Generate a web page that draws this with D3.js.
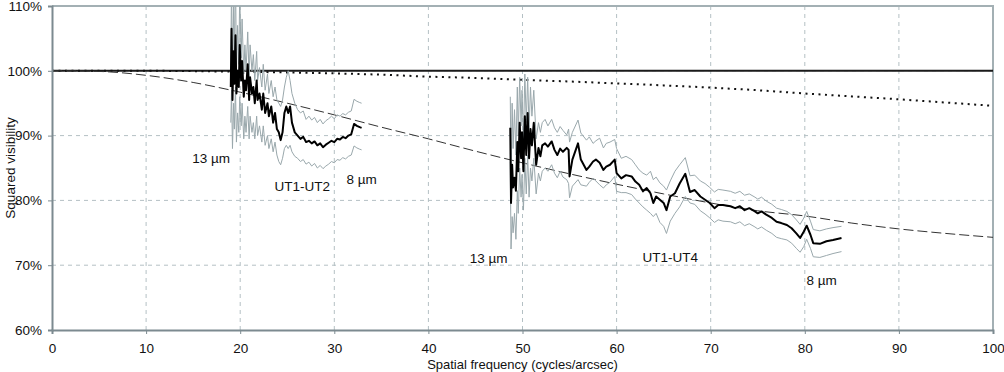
<!DOCTYPE html>
<html>
<head>
<meta charset="utf-8">
<script src="https://cdn.jsdelivr.net/npm/d3@7"></script>
<style>
  body { margin: 0; background: #fff; }
  text { font-family: 'Liberation Sans', Arial, sans-serif; fill: #111; }
</style>
</head>
<body>
<div id="chart"></div>
<script>
// model curves
let modelFreq = [0, 5, 10, 15, 20, 25, 30, 35, 40, 45, 50, 55, 60, 65, 70, 75, 80, 85, 90, 95, 100]
let dashedModel = [100, 99.9, 99.3, 98.2, 96.7, 95.0, 93.2, 91.3, 89.5, 87.6, 85.8, 84.1, 82.5, 81.0, 79.6, 78.4, 77.6, 76.5, 75.6, 74.9, 74.3]
let dottedModel = [100, 100, 100, 99.95, 99.85, 99.75, 99.6, 99.4, 99.1, 98.9, 98.6, 98.35, 98.05, 97.75, 97.4, 97.0, 96.5, 96.05, 95.6, 95.1, 94.6]

// UT1-UT2 baseline
let ut12Freq = [19.0, 19.08, 19.18, 19.3, 19.38, 19.5, 19.6, 19.72, 19.85, 19.95, 20.1, 20.2, 20.38, 20.5, 20.62, 20.8, 20.95, 21.05, 21.25, 21.4, 21.55, 21.75, 21.85, 22.05, 22.3, 22.45, 22.65, 22.9, 23.05, 23.3, 23.5, 23.7, 23.9, 24.1, 24.3, 24.5, 24.7, 24.9, 25.1, 25.3, 25.5, 25.8, 26.1, 26.4, 26.7, 27.0, 27.3, 27.6, 27.9, 28.2, 28.5, 28.8, 29.1, 29.4, 29.7, 30.0, 30.3, 30.6, 30.9, 31.2, 31.5, 31.8, 32.1, 32.4, 32.7, 32.9]
let ut12Mean = [97.5, 106.5, 95.5, 103, 98, 105.5, 96.5, 100, 97.5, 104, 98.5, 101.5, 96, 98.5, 97, 101, 95.5, 99, 96.5, 97.5, 95, 98.5, 95.5, 96.5, 94, 96.5, 93.5, 95, 93, 94.5, 92, 93.5, 91, 90.5, 89.3, 90.5, 93.5, 94.5, 93.5, 94.5, 92, 90.5, 90, 89.5, 89.8, 89, 89.2, 88.8, 89.1, 88.5, 88.8, 88.2, 88.6, 88.9, 89.2, 89, 89.5, 89.4, 89.8, 89.6, 90, 90.2, 91.8, 91.5, 91.3, 91.2]
let ut12Upper = [100, 114, 99, 110, 102, 115, 100, 107, 101, 112, 102, 108, 99.5, 104, 100, 106, 99, 104, 100, 102.5, 98.5, 103, 98.5, 100.5, 97.5, 101, 97, 99.5, 96.5, 98.5, 96, 97.5, 95.5, 95, 94.5, 95.5, 97.5, 99, 100, 98.5, 96.5, 95, 94, 93.5, 93.8, 92.5, 93, 92.4, 92.8, 92, 92.5, 91.8, 92.3, 92.6, 93, 92.6, 93.2, 93, 93.4, 93.2, 93.6, 93.8, 95.6, 95.3, 95.1, 95.0]
let ut12Lower = [92, 97, 88, 95, 91, 97.5, 89, 93.5, 90.5, 96, 91.5, 95, 89.5, 93, 90.5, 94.5, 89.5, 93, 90.5, 92, 89.5, 93, 90, 91.5, 89, 91.5, 88.5, 90, 88, 89.5, 87.5, 89, 87, 86, 85.5, 86.5, 88, 88.5, 88, 88.5, 87.5, 86.8, 86.5, 86, 86.3, 85.6, 85.9, 85.3, 85.7, 85.0, 85.4, 84.9, 85.3, 85.6, 86, 85.8, 86.3, 86.2, 86.6, 86.4, 86.8, 87, 88.4, 88.1, 87.9, 87.8]

// UT1-UT4 baseline
let ut14Freq = [48.7, 48.78, 48.9, 49.0, 49.15, 49.3, 49.45, 49.55, 49.7, 49.85, 49.95, 50.1, 50.25, 50.4, 50.55, 50.7, 50.85, 51.0, 51.2, 51.45, 51.7, 51.9, 52.1, 52.4, 52.7, 53.1, 53.4, 53.7, 54.0, 54.3, 54.7, 54.9, 55.0, 55.3, 55.9, 56.2, 56.8, 57.1, 57.5, 57.8, 58.2, 58.6, 58.9, 59.3, 59.8, 60.0, 60.5, 61.0, 61.6, 62.0, 62.4, 62.8, 63.2, 63.6, 63.9, 64.2, 64.6, 65.0, 65.3, 65.7, 66.2, 66.7, 67.3, 67.8, 68.3, 68.9, 69.4, 69.9, 70.4, 70.8, 71.3, 72.1, 72.6, 73.1, 73.6, 74.1, 74.7, 75.0, 75.4, 75.9, 76.5, 77.0, 77.5, 78.1, 78.6, 79.1, 79.5, 79.9, 80.2, 80.6, 80.9, 81.6, 82.3, 83.0, 83.9]
let ut14Mean = [91.2, 79.6, 85.5, 82, 83.5, 81.5, 89, 84.5, 92, 86.5, 90.5, 84.5, 93, 87, 93.5, 86.5, 91, 88.5, 92, 85.5, 88.1, 86.8, 88.5, 88.8, 88.3, 89.1, 87.8, 87, 88, 87.5, 88.1, 87.8, 83.7, 86.3, 88.8, 86.3, 84.7, 85.2, 86, 86.3, 85.8, 84.7, 85.2, 85.5, 86.3, 84.2, 83.4, 83.9, 83.7, 82.9, 82.4, 81.4, 81.9, 81.1, 79.6, 80.6, 80.1, 79.6, 78.5, 80.6, 81.1, 82.6, 84.1, 81.3, 81.6, 80.6, 80.1, 79.6, 78.8, 79.3, 79.3, 79.1, 78.8, 79.1, 78.5, 78.8, 78.3, 78.0, 78.3, 77.8, 77.3, 76.7, 76.5, 76.2, 75.7, 74.9, 74.2, 75.2, 76.1, 74.7, 73.4, 73.3, 73.7, 73.9, 74.2]
let ut14Upper = [96, 84, 95, 88, 94, 87, 97.5, 90, 99, 91.5, 97, 89.5, 99.5, 92, 99, 91, 97.5, 93, 97, 89.5, 92, 90.5, 92, 92.5, 91.5, 92.5, 91.2, 90.5, 91.4, 90.8, 90.1, 91, 89, 90.5, 92.4, 90.4, 89.3, 89.8, 88.8, 89.2, 89.6, 88.1, 88.8, 89, 89.4, 88, 86.5, 86.8, 86.3, 85.5, 84.7, 84.2, 83.9, 84.5, 83.2, 83.6, 82.7, 82.2, 81.6, 83, 84.5, 85.5, 86.6, 83.8, 83.9, 83, 82.6, 82, 81.3, 81.7, 81.6, 81.4, 81.1, 81.4, 80.8, 81, 80.5, 80.2, 80.5, 79.9, 79.4, 78.8, 78.6, 78.3, 77.8, 77, 76.3, 77.3, 78.3, 76.8, 75.5, 75.3, 75.6, 75.8, 76.0]
let ut14Lower = [86, 72.5, 77.5, 75, 78, 74, 81.5, 78, 85, 80.5, 84, 78.5, 86.5, 81, 87, 80.5, 85, 83, 86.5, 81, 84.2, 83, 84.5, 85, 84.5, 85.5, 84.2, 83.5, 84.5, 83.6, 83.2, 82.6, 80.4, 82.2, 83.2, 82.4, 82.2, 82.8, 83.4, 83, 82.4, 81.9, 82.4, 82.8, 83.7, 81.4, 81.2, 81.2, 80.9, 80.2, 79.6, 79, 78.5, 78, 77.5, 78, 76.6, 76, 74.9, 76.8, 78, 79, 80.6, 79.6, 79.4, 78.4, 77.9, 77.3, 76.6, 77, 76.8, 76.7, 76.4, 76.7, 76.1, 76.4, 75.9, 75.6, 75.9, 75.4, 74.9, 74.3, 74.1, 73.9, 73.4, 72.6, 72, 72.9, 74, 72.6, 71.3, 71.2, 71.5, 71.8, 72.1]

// annotations: [text, frequency, visibility]
let labels = [
  ['13 µm', 16.9, 85.8],
  ['UT1-UT2', 26.6, 81.5],
  ['8 µm', 32.9, 82.6],
  ['13 µm', 46.4, 70.4],
  ['UT1-UT4', 65.7, 70.5],
  ['8 µm', 81.8, 67.0]
]

let xTicks = [0, 10, 20, 30, 40, 50, 60, 70, 80, 90, 100]
let yTicks = [60, 70, 80, 90, 100, 110]

let margin = { top: 6, bottom: 42, left: 52, right: 11 }
let width = 1004 - margin.left - margin.right
let height = 372 - margin.top - margin.bottom

let svg = d3
  .select('#chart')
  .append('svg')
  .attr('width', 1004)
  .attr('height', 372)
  .append('g')
  .attr('transform', `translate(${margin.left},${margin.top})`)

let x = d3.scaleLinear().domain([0, 100]).range([0, width])
let y = d3.scaleLinear().domain([60, 110]).range([height, 0])

svg.append('clipPath').attr('id', 'clip')
  .append('rect').attr('width', width).attr('height', height)

// grid
svg.selectAll('.vgrid')
  .data(xTicks.slice(1, -1))
  .enter()
  .append('line')
  .attr('x1', d => x(d)).attr('x2', d => x(d))
  .attr('y1', 0).attr('y2', height)
  .attr('stroke', '#b4c0c4')
  .attr('stroke-dasharray', '4,4')

svg.selectAll('.hgrid')
  .data(yTicks.slice(1, -1))
  .enter()
  .append('line')
  .attr('x1', 0).attr('x2', width)
  .attr('y1', d => y(d)).attr('y2', d => y(d))
  .attr('stroke', '#b4c0c4')
  .attr('stroke-dasharray', '4,4')

// frame top / right
svg.append('path')
  .attr('d', `M0,0H${width}V${height}`)
  .attr('fill', 'none')
  .attr('stroke', '#a3b0b4')
  .attr('stroke-width', 2)

let line = d3.line().x(d => x(d[0])).y(d => y(d[1]))
let pairs = (xs, ys) => xs.map((f, i) => [f, ys[i]])

let plot = svg.append('g').attr('clip-path', 'url(#clip)')

// reference 100% line
plot.append('path')
  .datum(pairs([0, 100], [100, 100]))
  .attr('d', line)
  .attr('stroke', '#1a1a1a')
  .attr('stroke-width', 2)
  .attr('fill', 'none')

plot.append('path')
  .datum(pairs(modelFreq, dottedModel))
  .attr('d', line.curve(d3.curveMonotoneX))
  .attr('stroke', '#111')
  .attr('stroke-width', 2)
  .attr('stroke-dasharray', '2,4.5')
  .attr('fill', 'none')

plot.append('path')
  .datum(pairs(modelFreq, dashedModel))
  .attr('d', line.curve(d3.curveMonotoneX))
  .attr('stroke', '#333')
  .attr('stroke-width', 1)
  .attr('stroke-dasharray', '10,4')
  .attr('fill', 'none')

line.curve(d3.curveLinear)

let series = [
  [ut12Freq, ut12Upper, '#9aa8ac', 1],
  [ut12Freq, ut12Lower, '#9aa8ac', 1],
  [ut14Freq, ut14Upper, '#9aa8ac', 1],
  [ut14Freq, ut14Lower, '#9aa8ac', 1],
  [ut12Freq, ut12Mean, '#000', 2],
  [ut14Freq, ut14Mean, '#000', 2]
]

plot.selectAll('.series')
  .data(series)
  .enter()
  .append('path')
  .attr('class', 'series')
  .attr('d', d => line(pairs(d[0], d[1])))
  .attr('stroke', d => d[2])
  .attr('stroke-width', d => d[3])
  .attr('stroke-linejoin', 'round')
  .attr('fill', 'none')

svg.selectAll('.label')
  .data(labels)
  .enter()
  .append('text')
  .attr('x', d => x(d[1]))
  .attr('y', d => y(d[2]))
  .attr('text-anchor', 'middle')
  .style('font-size', '13.5px')
  .text(d => d[0])

// axes
let xAxis = d3.axisBottom(x).tickValues(xTicks).tickSize(4).tickPadding(9)
let yAxis = d3.axisLeft(y).tickValues(yTicks).tickSize(4).tickPadding(6).tickFormat(d => d + '%')

let gx = svg.append('g').attr('transform', `translate(0,${height})`).call(xAxis)
let gy = svg.append('g').call(yAxis)

for (let g of [gx, gy]) {
  g.select('.domain').attr('stroke', '#7c8a90').attr('stroke-width', 2)
  g.selectAll('.tick line').attr('stroke', '#7c8a90')
  g.selectAll('.tick text')
    .style('font-size', '13.5px')
    .style('font-family', "'Liberation Sans', Arial, sans-serif")
    .attr('fill', '#111')
}

svg.append('text')
  .attr('x', width / 2)
  .attr('y', height + 39)
  .attr('text-anchor', 'middle')
  .style('font-size', '13px')
  .text('Spatial frequency (cycles/arcsec)')

svg.append('text')
  .attr('transform', `translate(${-37},${height / 2}) rotate(-90)`)
  .attr('text-anchor', 'middle')
  .style('font-size', '13.5px')
  .text('Squared visibility')
</script>
</body>
</html>
